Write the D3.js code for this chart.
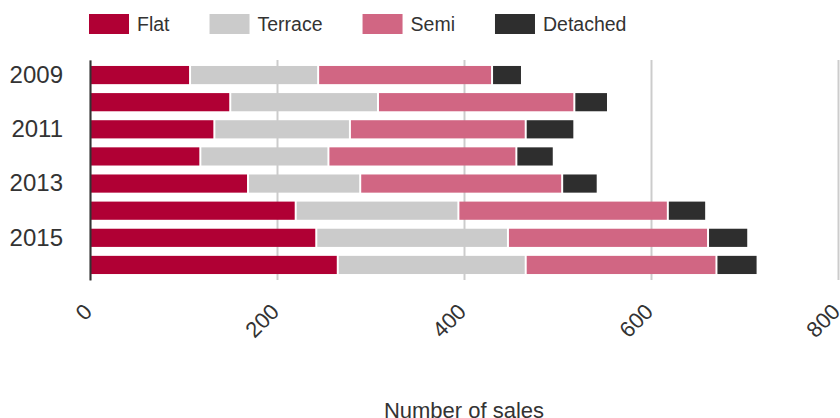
<!DOCTYPE html>
<html lang="en">
<head>
    <meta charset="UTF-8">
    <title>Sales by property type</title>
    <script src="https://d3js.org/d3.v7.min.js"></script>
    <style>
        body {
            margin: 0;
            padding: 0;
            background-color: #ffffff;
            font-family: "Liberation Sans", Arial, Helvetica, sans-serif;
        }
        .axis text {
            fill: #333;
            font-family: "Liberation Sans", Arial, Helvetica, sans-serif;
        }
    </style>
</head>
<body>
    <svg id="chart"></svg>

    <script>
        // data
        const years = ["2009", "2010", "2011", "2012", "2013", "2014", "2015", "2016"];
        const types = ["Flat", "Terrace", "Semi", "Detached"];
        const flat = [107, 150, 133, 118, 169, 220, 242, 265];
        const terrace = [137, 158, 145, 137, 120, 174, 205, 201];
        const semi = [186, 210, 188, 201, 216, 224, 214, 204];
        const detached = [32, 36, 52, 40, 38, 41, 43, 44];
        const yearTicks = ["2009", "2011", "2013", "2015"];
        const xTicks = [0, 200, 400, 600, 800];

        const width = 840;
        const height = 418;

        const svg = d3.select("#chart")
            .attr("width", width)
            .attr("height", height);

        const colorScale = d3.scaleOrdinal()
            .domain(types)
            .range(["#b00034", "#cbcbcb", "#d16683", "#2e2e2e"]);

        const xScale = d3.scaleLinear()
            .domain([0, 800])
            .range([90, 838]);

        const yScale = d3.scaleBand()
            .domain(years)
            .range([60, 280])
            .paddingInner(0.33)
            .paddingOuter(0.22);

        // gridlines + rotated tick labels
        const xAxis = svg.append("g")
            .attr("class", "axis")
            .attr("transform", "translate(0,280)")
            .call(d3.axisBottom(xScale).tickValues(xTicks).tickSizeInner(-220).tickSizeOuter(0));

        xAxis.select(".domain").remove();
        xAxis.selectAll(".tick line")
            .attr("stroke", "#cccccc")
            .attr("stroke-width", 2);
        xAxis.selectAll(".tick text")
            .attr("x", 0)
            .attr("y", 0)
            .attr("dy", 0)
            .attr("transform", "translate(3,33) rotate(-45)")
            .style("text-anchor", "end")
            .style("font-size", "22px");

        // stacked bars
        const table = years.map((y, i) => ({
            year: y, Flat: flat[i], Terrace: terrace[i], Semi: semi[i], Detached: detached[i]
        }));
        const stacked = d3.stack().keys(types)(table);

        svg.append("g")
            .selectAll("g")
            .data(stacked)
            .join("g")
            .attr("fill", d => colorScale(d.key))
            .selectAll("rect")
            .data(d => d)
            .join("rect")
            .attr("x", d => xScale(d[0]) + 1)
            .attr("y", d => yScale(d.data.year))
            .attr("width", d => xScale(d[1]) - xScale(d[0]) - 2)
            .attr("height", yScale.bandwidth());

        // left axis
        const yAxis = svg.append("g")
            .attr("class", "axis")
            .attr("transform", "translate(90,0)")
            .call(d3.axisLeft(yScale).tickValues(yearTicks).tickSize(0).tickPadding(27));

        yAxis.select(".domain")
            .attr("stroke", "#333")
            .attr("stroke-width", 2);
        yAxis.selectAll(".tick text")
            .style("font-size", "24px");

        // legend
        const legend = svg.append("g");
        let lx = 89;
        types.forEach(t => {
            legend.append("rect")
                .attr("x", lx)
                .attr("y", 14)
                .attr("width", 40)
                .attr("height", 20)
                .attr("fill", colorScale(t));
            const label = legend.append("text")
                .attr("x", lx + 48)
                .attr("y", 31)
                .attr("fill", "#333")
                .style("font-size", "19.5px")
                .text(t);
            lx += 48 + label.node().getComputedTextLength() + 40;
        });

        svg.append("text")
            .attr("x", 464)
            .attr("y", 418)
            .attr("text-anchor", "middle")
            .attr("fill", "#333")
            .style("font-size", "22px")
            .text("Number of sales");
    </script>
</body>
</html>
